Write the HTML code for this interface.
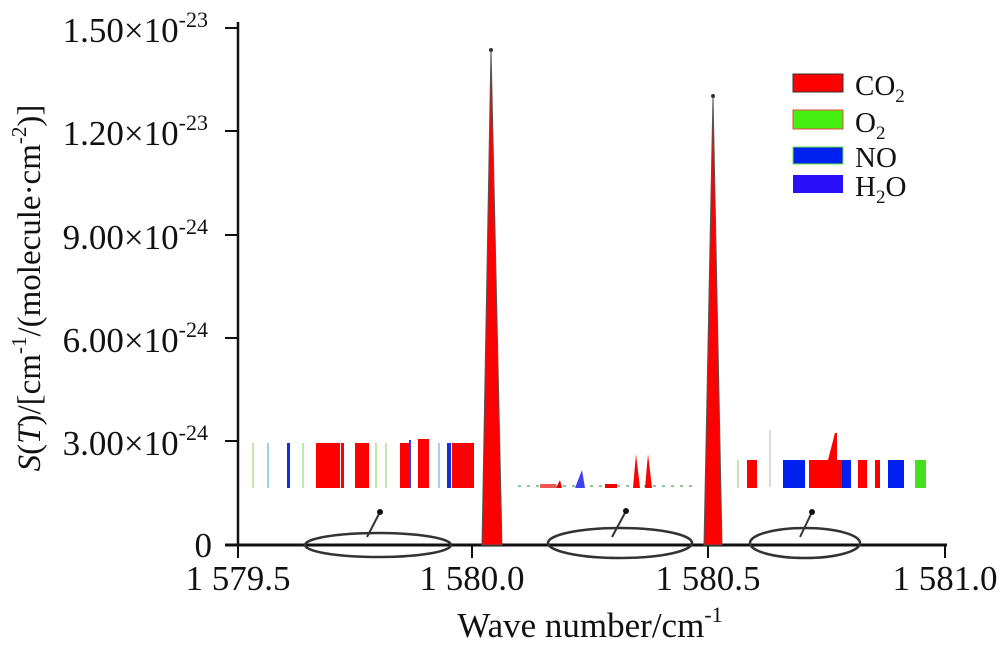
<!DOCTYPE html>
<html><head><meta charset="utf-8"><style>
body{margin:0;background:#fff}
text{font-family:"Liberation Serif",serif;fill:#111}
</style></head><body>
<svg width="1000" height="647" xmlns="http://www.w3.org/2000/svg">
<!-- axes -->
<line x1="238" y1="22" x2="238" y2="546" stroke="#111" stroke-width="2.5"/>
<line x1="225" y1="545" x2="947" y2="545" stroke="#111" stroke-width="3"/>
<g stroke="#111" stroke-width="2">
<line x1="225" y1="28" x2="238" y2="28"/><line x1="225" y1="131" x2="238" y2="131"/>
<line x1="225" y1="235" x2="238" y2="235"/><line x1="225" y1="338" x2="238" y2="338"/>
<line x1="225" y1="441" x2="238" y2="441"/>
<line x1="238" y1="545" x2="238" y2="558"/><line x1="472" y1="545" x2="472" y2="558"/>
<line x1="708" y1="545" x2="708" y2="558"/><line x1="945" y1="545" x2="945" y2="558"/>
</g>
<g font-size="35" text-anchor="end">
<text x="208" y="42">1.50×10<tspan dy="-15" font-size="22">-23</tspan></text>
<text x="208" y="145">1.20×10<tspan dy="-15" font-size="22">-23</tspan></text>
<text x="208" y="249">9.00×10<tspan dy="-15" font-size="22">-24</tspan></text>
<text x="208" y="352">6.00×10<tspan dy="-15" font-size="22">-24</tspan></text>
<text x="208" y="455">3.00×10<tspan dy="-15" font-size="22">-24</tspan></text>
<text x="212" y="557">0</text>
</g>
<g font-size="35" text-anchor="middle">
<text x="238" y="590">1 579.5</text><text x="472" y="590">1 580.0</text>
<text x="708" y="590">1 580.5</text><text x="945" y="590">1 581.0</text>
<text x="590" y="637">Wave number/cm<tspan dy="-15" font-size="22">-1</tspan></text>
</g>
<text transform="translate(40,288) rotate(-90)" font-size="33" text-anchor="middle"><tspan font-style="italic">S</tspan>(<tspan font-style="italic">T</tspan>)/[cm<tspan dy="-14" font-size="21">-1</tspan><tspan dy="14">/(molecule·cm</tspan><tspan dy="-14" font-size="21">-2</tspan><tspan dy="14">)]</tspan></text>
<!-- peaks -->
<polygon points="482,545 491,49 502,545" fill="#f00" stroke="#555" stroke-width="1"/>
<polygon points="704,545 713,96 722,545" fill="#f00" stroke="#555" stroke-width="1"/>
<circle cx="491" cy="50" r="2" fill="#333"/><circle cx="713" cy="96" r="2" fill="#333"/>
<!-- left inset bars -->
<g>
<rect x="252" y="443" width="2" height="45" fill="#bfe8b0"/>
<rect x="267" y="443" width="2" height="45" fill="#a8cdf0"/>
<rect x="287" y="443" width="3" height="45" fill="#1030e0"/>
<rect x="302" y="443" width="2" height="45" fill="#bfe8b0"/>
<rect x="316" y="443" width="24" height="45" fill="#f00"/>
<rect x="341" y="443" width="3" height="45" fill="#f00"/>
<rect x="355" y="443" width="14" height="45" fill="#f00"/>
<rect x="375" y="443" width="2" height="45" fill="#bfe8b0"/>
<rect x="385" y="443" width="2" height="45" fill="#bfe8b0"/>
<rect x="400" y="443" width="11" height="45" fill="#f00"/>
<rect x="409" y="440" width="2" height="48" fill="#3040f0"/>
<rect x="418" y="439" width="11" height="49" fill="#f00"/>
<rect x="438" y="443" width="2" height="45" fill="#a8cdf0"/>
<rect x="447" y="443" width="4" height="45" fill="#1030e0"/>
<rect x="452" y="443" width="22" height="45" fill="#f00"/>
</g>
<!-- middle inset -->
<line x1="518" y1="486" x2="692" y2="486" stroke="#8c8" stroke-width="2" stroke-dasharray="3,6"/>
<rect x="540" y="484" width="16" height="4" fill="#e55"/>
<polygon points="575,488 582,470 585,488" fill="#4040f0"/>
<rect x="605" y="484" width="12" height="4" fill="#e00"/>
<polygon points="633,488 636,454 640,488" fill="#f00"/>
<polygon points="645,488 648,454 652,488" fill="#f00"/>
<polygon points="556,488 560,480 562,488" fill="#e00"/>
<!-- right inset -->
<rect x="737" y="460" width="2" height="28" fill="#bfe8b0"/>
<rect x="747" y="460" width="10" height="28" fill="#f00"/>
<line x1="770" y1="430" x2="770" y2="487" stroke="#ccc" stroke-width="1.5"/>
<rect x="783" y="460" width="22" height="28" fill="#0020f0"/>
<polygon points="809,460 828,460 835,433 837,433 837,488 809,488" fill="#f00"/>
<rect x="837" y="460" width="5" height="28" fill="#f00"/>
<rect x="842" y="460" width="9" height="28" fill="#0020f0"/>
<rect x="858" y="460" width="9" height="28" fill="#f00"/>
<rect x="875" y="460" width="5" height="28" fill="#f00"/>
<rect x="888" y="460" width="16" height="28" fill="#0020f0"/>
<rect x="915" y="460" width="11" height="28" fill="#44e020"/>
<!-- ellipses -->
<g fill="none" stroke="#333" stroke-width="2.5">
<ellipse cx="378" cy="545" rx="73" ry="12"/>
<ellipse cx="620" cy="543" rx="72" ry="15"/>
<ellipse cx="805" cy="543" rx="55" ry="15"/>
</g>
<g stroke="#333" stroke-width="2">
<line x1="367" y1="537" x2="380" y2="512"/><line x1="612" y1="537" x2="626" y2="511"/><line x1="800" y1="537" x2="812" y2="512"/>
</g>
<g fill="#111"><circle cx="380" cy="512" r="3"/><circle cx="626" cy="511" r="3"/><circle cx="812" cy="512" r="3"/></g>
<!-- legend -->
<rect x="793" y="74" width="50" height="18" fill="#f00" stroke="#333"/>
<rect x="793" y="110" width="50" height="19" fill="#44f010" stroke="#e44"/>
<rect x="793" y="147" width="50" height="17" fill="#0020f0" stroke="#6e3"/>
<rect x="793" y="175" width="50" height="18" fill="#2a10f8"/>
<g font-size="29">
<text x="855" y="95">CO<tspan dy="7" font-size="19">2</tspan></text>
<text x="855" y="132">O<tspan dy="7" font-size="19">2</tspan></text>
<text x="855" y="167">NO</text>
<text x="855" y="196">H<tspan dy="7" font-size="19">2</tspan><tspan dy="-7">O</tspan></text>
</g>
</svg>
</body></html>
